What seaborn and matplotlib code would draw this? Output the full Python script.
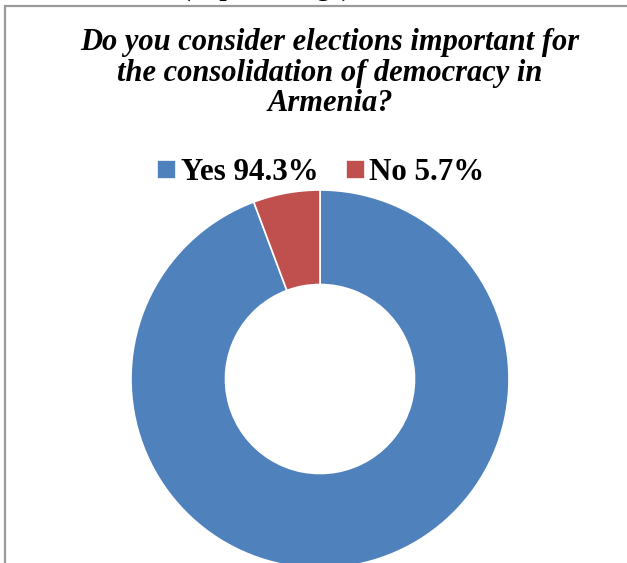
import matplotlib
matplotlib.use("Agg")
import matplotlib.pyplot as plt
import seaborn as sns
from matplotlib.patches import Rectangle

labels = ["Yes", "No"]
shares = [94.3, 5.7]
colors = ["#4F81BD", "#C0504D"]
title = "Do you consider elections important for\nthe consolidation of democracy in\nArmenia?"

sns.set_style("white")
plt.rcParams["font.family"] = ["Liberation Serif", "DejaVu Serif"]
plt.rcParams["text.color"] = "black"

W, H = 627, 563
fig = plt.figure(figsize=(W / 100, H / 100), dpi=100)

# frame of the chart area (cropped screenshot)
fig.patches.append(Rectangle((5 / W, -0.05), 1.2, (H - 6) / H + 0.05,
                             transform=fig.transFigure, fill=False,
                             edgecolor="#9a9a9a", linewidth=1.6))

# cut-off text above the frame
fig.text(266 / W, 1 + 11 / H, "(in percentage)", ha="center", va="center",
         fontsize=19, fontweight="bold")

fig.text(330 / W, 1 - 73 / H, title, ha="center", va="center",
         fontsize=22, fontweight="bold", style="italic", linespacing=1.08)

# donut
cx, cy, r = 320, 379, 189
ax = fig.add_axes([(cx - r) / W, (H - cy - r) / H, 2 * r / W, 2 * r / H])
wedges, _ = ax.pie(shares, colors=colors, startangle=90, counterclock=False,
                   radius=1, wedgeprops=dict(width=0.5, edgecolor="white", linewidth=1.2))
ax.set_xlim(-1, 1)
ax.set_ylim(-1, 1)
ax.set_aspect("auto")
ax.axis("off")

leg_labels = [f"{l} {v:.1f}%" for l, v in zip(labels, shares)]
fig.legend(wedges, leg_labels, loc="center", bbox_to_anchor=(321 / W, 1 - 173 / H),
           ncol=2, frameon=False, prop=dict(size=22.3, weight="bold"),
           handlelength=0.6, handleheight=0.6, handletextpad=0.15, columnspacing=0.9)

fig.savefig("out.png", dpi=100)
